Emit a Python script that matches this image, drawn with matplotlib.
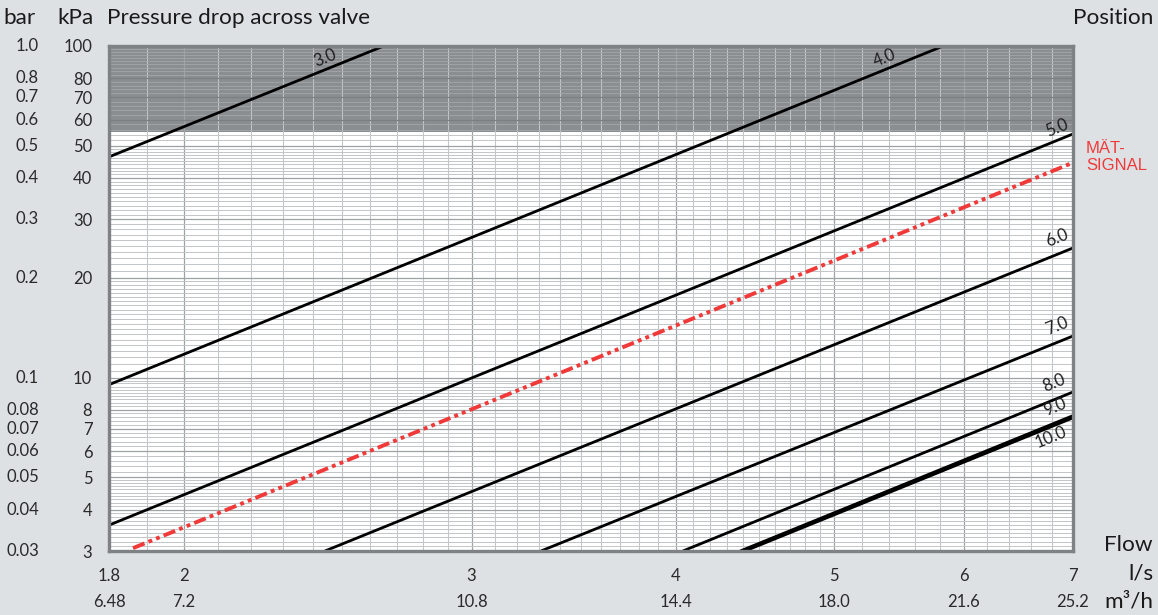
import numpy as np
import matplotlib
matplotlib.use('Agg')
import matplotlib.pyplot as plt
from matplotlib.transforms import blended_transform_factory

# ---------------- data ----------------
flow_ticks = [1.8, 2, 3, 4, 5, 6, 7]
flow_labels_ls = ['1.8', '2', '3', '4', '5', '6', '7']
flow_labels_m3h = ['6.48', '7.2', '10.8', '14.4', '18.0', '21.6', '25.2']

kpa_ticks = [3, 4, 5, 6, 7, 8, 10, 20, 30, 40, 50, 60, 70, 80, 100]
kpa_labels = ['3', '4', '5', '6', '7', '8', '10', '20', '30', '40', '50', '60', '70', '80', '100']
bar_labels = ['0.03', '0.04', '0.05', '0.06', '0.07', '0.08', '0.1', '0.2', '0.3', '0.4',
              '0.5', '0.6', '0.7', '0.8', '1.0']

positions = ['3.0', '4.0', '5.0', '6.0', '7.0', '8.0', '9.0', '10.0']
line_flow_start = [1.8, 1.8, 1.8, 2.44, 3.308, 4.04, 4.38, 4.41]
line_dp_start = [46.3, 9.52, 3.59, 3.0, 3.0, 3.0, 3.0, 3.0]
line_flow_end = [2.651, 5.83, 7.0, 7.0, 7.0, 7.0, 7.0, 7.0]
line_dp_end = [100, 100, 54.3, 24.6, 13.35, 9.05, 7.68, 7.56]
label_flow = [2.44, 5.37, 6.84, 6.84, 6.84, 6.82, 6.82, 6.79]
label_dp = [92, 92, 56.5, 26.3, 14.3, 9.6, 8.15, 6.62]

signal_flow = [1.862, 7.0]
signal_dp = [3.06, 44.5]
signal_label = 'MÄT-\nSIGNAL'

shade_range = [55, 100]

# ---------------- figure ----------------
W, H = 1158, 615
BG = '#dde1e4'
FONT = ['Lato', 'DejaVu Sans']
plt.rcParams['font.family'] = FONT

fig = plt.figure(figsize=(W / 100, H / 100), dpi=100, facecolor=BG)
L, R, T, B = 109, 1073, 46, 551
ax = fig.add_axes([L / W, 1 - B / H, (R - L) / W, (B - T) / H])
ax.set_facecolor('white')
ax.set_xscale('log')
ax.set_yscale('log')
ax.set_xlim(1.8, 7)
ax.set_ylim(3, 100)


def fx(x):
    return x / W


def fy(y):
    return 1 - y / H


# shaded zone
ax.axhspan(shade_range[0], shade_range[1], color='#8a8e91', zorder=0, lw=0)

# grid
minor_c = '#c3c6c8'
major_c = '#9ea2a5'
vx_minor = np.concatenate([np.arange(1.9, 5.0, 0.1), np.arange(5.2, 7.0, 0.2)])
for v in vx_minor:
    if abs(v - round(v)) > 1e-6:
        ax.axvline(v, color=minor_c, lw=0.75, zorder=1)
for v in [2, 3, 4, 5, 6]:
    ax.axvline(v, color=major_c, lw=0.9, zorder=1)

hy_minor = np.concatenate([np.arange(3.1, 5.0, 0.1), np.arange(5.2, 10.0, 0.2),
                           np.arange(10.5, 20.0, 0.5), np.arange(21, 50, 1),
                           np.arange(52, 100, 2)])
for v in hy_minor:
    if v < shade_range[0]:
        ax.axhline(v, color=minor_c, lw=0.7, zorder=1)
    else:
        ax.axhline(v, color='#a3a7a9', lw=0.6, zorder=1)
for v in kpa_ticks[1:-1]:
    ax.axhline(v, color=major_c if v < shade_range[0] else '#7b7f82', lw=0.9, zorder=1)

# valve position lines
for i, name in enumerate(positions):
    ax.plot([line_flow_start[i], line_flow_end[i]], [line_dp_start[i], line_dp_end[i]],
            color='black', lw=2.0, solid_capstyle='butt', zorder=4, clip_on=True)

# signal line
ax.plot(signal_flow, signal_dp, color='#f03a3a', lw=2.8,
        linestyle=(0, (3.2, 1.1, 1.0, 1.1, 1.0, 1.1)), dash_capstyle='butt', zorder=5)

# labels on the lines
fig.canvas.draw()
for i, name in enumerate(positions):
    p0 = ax.transData.transform((line_flow_start[i], line_dp_start[i]))
    p1 = ax.transData.transform((line_flow_end[i], line_dp_end[i]))
    ang = np.degrees(np.arctan2(p1[1] - p0[1], p1[0] - p0[0]))
    ax.text(label_flow[i], label_dp[i], name, rotation=ang, rotation_mode='anchor',
            ha='center', va='center', fontsize=12, color='#1e1e1e', zorder=6)

# spines
for s in ax.spines.values():
    s.set_color('#7e8285')
    s.set_linewidth(2.4)
    s.set_zorder(7)

# ticks
ax.set_xticks(flow_ticks)
ax.set_xticklabels(flow_labels_ls)
ax.xaxis.set_minor_locator(matplotlib.ticker.NullLocator())
ax.set_yticks(kpa_ticks)
ax.set_yticklabels(kpa_labels)
ax.yaxis.set_minor_locator(matplotlib.ticker.NullLocator())
ax.tick_params(axis='both', length=0, labelsize=12, colors='#2a2a2a')
ax.tick_params(axis='x', pad=12)
ax.tick_params(axis='y', pad=12)

# bar column
trans_y = blended_transform_factory(fig.transFigure, ax.transData)
for v, lab in zip(kpa_ticks, bar_labels):
    ax.text(fx(39), v, lab, transform=trans_y, ha='right', va='center',
            fontsize=12, color='#2a2a2a', clip_on=False)

# m3/h row
trans_x = blended_transform_factory(ax.transData, fig.transFigure)
for v, lab in zip(flow_ticks, flow_labels_m3h):
    ax.text(v, fy(602), lab, transform=trans_x, ha='center', va='center',
            fontsize=12, color='#2a2a2a', clip_on=False)

# header / axis titles
hdr = dict(fontsize=16.2, color='#1a1a1a', va='center')
fig.text(fx(3), fy(18), 'bar', ha='left', **hdr)
fig.text(fx(94), fy(18), 'kPa', ha='right', **hdr)
fig.text(fx(107), fy(18), 'Pressure drop across valve', ha='left', **hdr)
fig.text(fx(1153), fy(18), 'Position', ha='right', **hdr)
fig.text(fx(1153), fy(545), 'Flow', ha='right', **hdr)
fig.text(fx(1153), fy(574), 'l/s', ha='right', **hdr)
fig.text(fx(1153), fy(602), 'm³/h', ha='right', **hdr)

# signal label
fig.text(fx(1086), fy(157), signal_label, ha='left', va='center', fontsize=12,
         color='#f03a3a', family=['Liberation Sans', 'DejaVu Sans'], linespacing=1.1)

fig.savefig('out.png', dpi=100, facecolor=BG)
